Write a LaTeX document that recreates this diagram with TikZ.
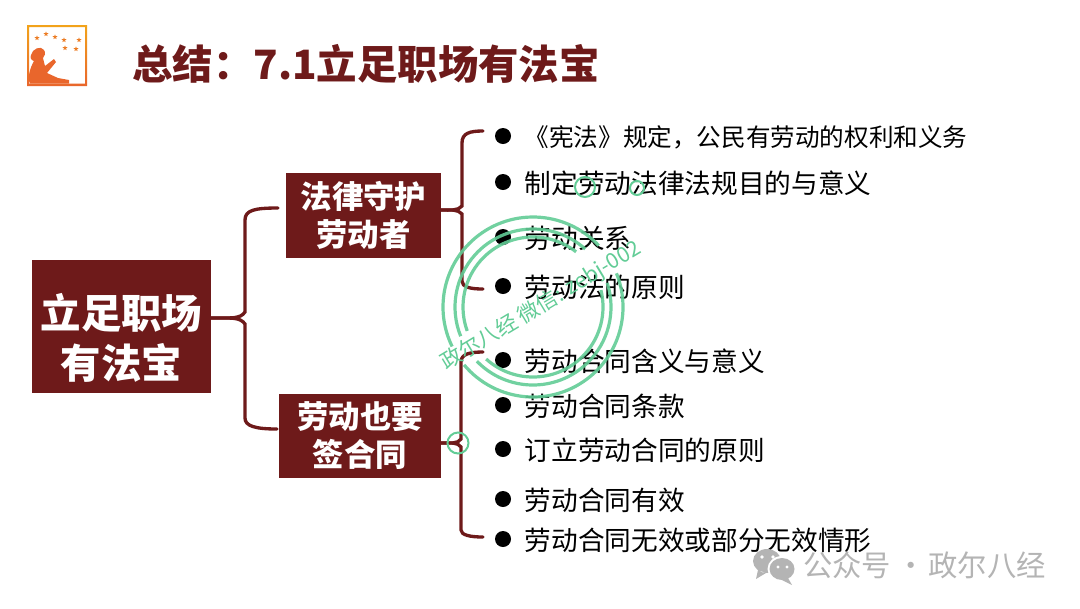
\documentclass[tikz,border=0pt]{standalone}
\usepackage{fontspec}
\setmainfont{Noto Sans CJK SC}
\usetikzlibrary{shapes.geometric,positioning,calc}
\definecolor{Wine}{HTML}{6E1A1A}
\definecolor{Stamp}{HTML}{62CC96}
\definecolor{Logo}{HTML}{E9662C}
\definecolor{Mark}{HTML}{B4B4B4}
\tikzset{
  headbox/.style={fill=Wine,text=white,font=\bfseries,align=center,inner sep=0pt,anchor=center},
  brace/.style={draw=Wine,line width=2.5pt,line cap=round},
  item/.style={anchor=west,inner sep=0pt,font=\fontsize{20pt}{24pt}\selectfont},
  dot/.style={circle,fill=black,minimum size=12pt,inner sep=0pt},
  ring/.style={draw=Stamp,line width=2.4pt,opacity=.9},
}
\begin{document}
\begin{tikzpicture}[x=0.75pt,y=-0.75pt]
\useasboundingbox (0,0) rectangle (1080,608);
% logo
\path[top color=Logo!60!yellow,bottom color=Logo,even odd rule] (27,25) rectangle (87,86) (29,27) rectangle (85,83.5);
\foreach \x/\y [count=\i] in {37/38,46/34,55/37,64/40,79/40,65/48,76/49} {\node[star,star points=5,star point ratio=2.4,fill=Logo!85!yellow,minimum size=4pt,inner sep=0pt] (star\i) at (\x,\y) {};}
\fill[Logo] (31,55) .. controls (32,49) and (41,45) .. (44,50) .. controls (46,53) and (45,56) .. (43,58) -- (45,66) -- (54,59) -- (56,62) -- (47,73) -- (58,78) -- (69,80) -- (69,83.5) -- (30,83.5) .. controls (27,78) and (30,68) .. (34,61) .. controls (31,60) and (30,58) .. (31,55) -- cycle;
% title
\node[anchor=west,inner sep=0pt,text=Wine,font=\bfseries\fontsize{30.3pt}{36pt}\selectfont] (title) at (132,64) {总结：7.1立足职场有法宝};
% boxes
\node[headbox,minimum width=134.25pt,minimum height=99.75pt] (root) at (121.5,326.5) {};
\node[text=white,align=center,inner sep=0pt,font=\bfseries\fontsize{30.3pt}{37.5pt}\selectfont] (rootlabel) at (121.5,338) {立足职场\\有法宝};
\node[headbox,minimum width=116.25pt,minimum height=63.75pt,font=\bfseries\fontsize{23.6pt}{28.5pt}\selectfont] (guard) at (363.5,215.5) {法律守护\\劳动者};
\node[headbox,minimum width=121.5pt,minimum height=63pt,font=\bfseries\fontsize{23.6pt}{28.5pt}\selectfont] (sign) at (360,436) {劳动也要\\签合同};
% items
\node[dot] (dota) at (503,136) {};
\node[item,font=\fontsize{18.45pt}{24pt}\selectfont] (itema) at (524.5,137) {《宪法》规定，公民有劳动的权利和义务};
\foreach \nm/\y/\s in {b/183/制定劳动法律法规目的与意义,c/238/劳动关系,d/287/劳动法的原则,e/361/劳动合同含义与意义,f/406/劳动合同条款,g/450/订立劳动合同的原则,h/500/劳动合同有效,i/540/劳动合同无效或部分无效情形} {
  \node[dot] (dot\nm) at (503,\y-1) {};
  \node[item] (item\nm) at (524.5,\y) {\s};
}
% braces
\coordinate (roottop) at (278,208);
\coordinate (rootbot) at (277,429);
\coordinate (guardtop) at (483,131);
\coordinate (guardbot) at (483,289);
\coordinate (signtop) at (483,352);
\coordinate (signbot) at (483,537);
\draw[brace] (root.east|-0,318) .. controls (232,318) and (240,319) .. (245,312) -- (245,220) .. controls (245,210) and (255,208) .. (roottop);
\draw[brace] (root.east|-0,318) .. controls (232,318) and (240,317) .. (245,324) -- (245,418) .. controls (245,426) and (255,429) .. (rootbot);
\draw[brace] (guard.east|-0,210) .. controls (450,210) and (458,211) .. (462,206) -- (462,143) .. controls (462,133) and (470,131) .. (guardtop);
\draw[brace] (guard.east|-0,210) .. controls (450,210) and (458,209) .. (462,214) -- (462,281) .. controls (462,287) and (470,289) .. (guardbot);
\draw[brace] (sign.east|-0,443) .. controls (450,443) and (458,444) .. (461,439) -- (461,362) .. controls (461,354) and (470,352) .. (signtop);
\draw[brace] (sign.east|-0,443) .. controls (450,443) and (458,442) .. (461,447) -- (461,530) .. controls (461,535) and (470,537) .. (signbot);
% stamp
\begin{scope}[shift={(533,307)}]
\draw[ring] (-43:90) arc (-43:-206:90) (140:90) arc (140:-22:90);
\draw[ring] (-48:78) arc (-48:-202:78) (136:78) arc (136:-18:78);
\draw[ring] (-52:70) arc (-52:-200:70) (132:70) arc (132:-14:70);
\node[rotate=31,text=Stamp,inner sep=0pt,font=\fontsize{16pt}{18pt}\selectfont] (stamp) at (8,-1) {政尔八经 微信: zebj-002};
\end{scope}
\draw[Stamp,line width=1.5pt] (458,443) circle (10.5);
\draw[Stamp,line width=1.5pt] (585,187) circle (10);
\draw[Stamp,line width=1.5pt] (637,188) circle (7);
% wechat mark
\fill[Mark] (767,561) ellipse (14 and 12) (758,570) -- (756,579) -- (766,573) -- cycle;
\fill[white] (782,569) ellipse (14.5 and 13);
\fill[Mark] (782,569) ellipse (12.5 and 11) (788,578) -- (792,585) -- (782,580) -- cycle;
\fill[white] (762,557) circle (1.8) (773,557) circle (1.8) (778,567) circle (1.6) (787,567) circle (1.6);
\node[anchor=west,inner sep=0pt,text=Mark,font=\fontsize{22pt}{26pt}\selectfont] (mark) at (803,565) {公众号\kern-1pt{} · \kern-3pt{}政尔八经};
\end{tikzpicture}
\end{document}
